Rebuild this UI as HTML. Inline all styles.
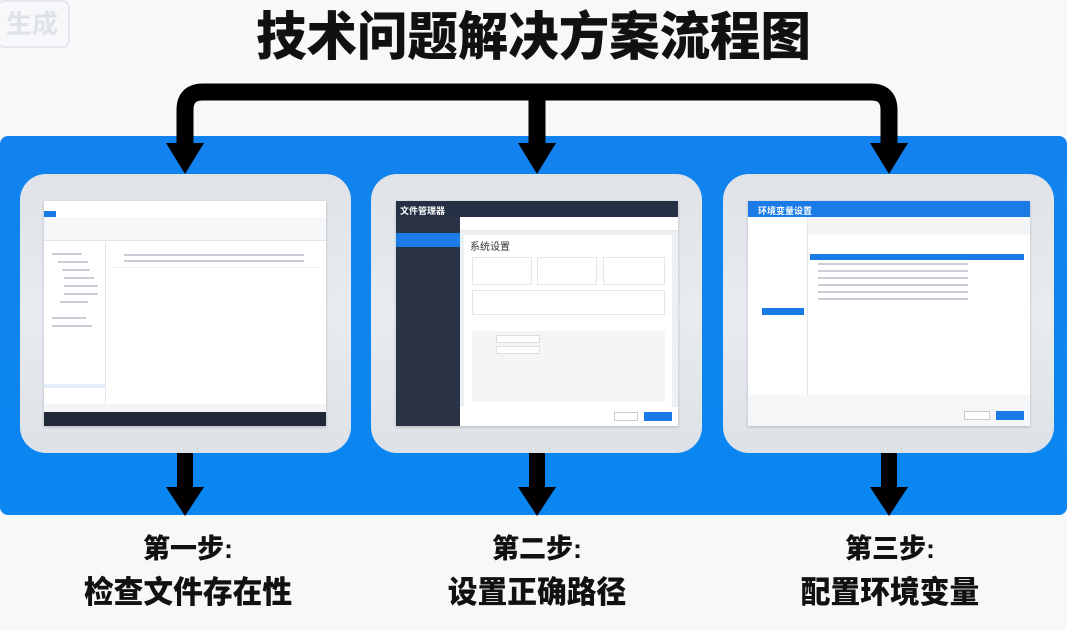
<!DOCTYPE html>
<html><head><meta charset="utf-8">
<style>
*{margin:0;padding:0;box-sizing:border-box}
body{width:1067px;height:630px;background:#f7f8fa;position:relative;overflow:hidden;font-family:"Liberation Sans","Noto Sans CJK SC",sans-serif}
.abs{position:absolute}
.title{left:0;width:1067px;top:7px;text-align:center;font-size:52px;font-weight:900;color:#111;letter-spacing:0px;line-height:62px;transform:scaleX(0.97)}
.wm{left:-4px;top:0;width:74px;height:48px;border:2px solid #e4e6ea;border-radius:8px;color:#dfe2e6;font-size:26px;font-weight:700;line-height:44px;padding-left:8px}
.band{left:0;top:136px;width:1067px;height:379px;background:linear-gradient(180deg,#1283ee,#0a86f0);border-radius:8px}
.card{top:174px;width:331px;height:279px;border-radius:26px;background:linear-gradient(180deg,#dfe3e8,#e8ecf0 50%,#dde2e7)}
.scr{top:201px;width:282px;height:225px;background:#fff;box-shadow:0 1px 3px rgba(0,0,0,.2);overflow:hidden}
.b{position:absolute;background:#c9ced6;height:3px}
.step{text-align:center;font-weight:900;color:#111;width:300px}
.s1{font-size:27px;line-height:30px;top:534px}
.s2{font-size:31px;line-height:34px;top:576px;transform:scaleX(0.96)}
</style></head><body>
<div class="abs wm">生成</div>
<div class="abs title">技术问题解决方案流程图</div>
<div class="abs band"></div>

<svg class="abs" style="left:0;top:0" width="1067" height="630">
<path d="M185 150 V110 Q185 92 203 92 H871 Q889 92 889 110 V150 M537 92 V150" fill="none" stroke="#000" stroke-width="17"/>
<polygon points="166,143 204,143 185,174" fill="#000"/>
<polygon points="518,143 556,143 537,174" fill="#000"/>
<polygon points="870,143 908,143 889,174" fill="#000"/>
<g fill="#000">
<rect x="177" y="452" width="16" height="38"/><polygon points="166,487 204,487 185,516"/>
<rect x="529" y="452" width="16" height="38"/><polygon points="518,487 556,487 537,516"/>
<rect x="881" y="452" width="16" height="38"/><polygon points="870,487 908,487 889,516"/>
</g>
</svg>

<div class="abs card" style="left:20px"></div>
<div class="abs card" style="left:371px"></div>
<div class="abs card" style="left:723px"></div>

<!-- screen 1 -->
<div class="abs scr" style="left:44px">
 <div class="abs" style="left:0;top:0;width:282px;height:10px;background:#fff"></div>
 <div class="abs" style="left:0;top:10px;width:12px;height:6px;background:#1a7ae6"></div>
 <div class="abs" style="left:0;top:16px;width:282px;height:24px;background:#f6f7f9;border-bottom:1px solid #e3e5e8"></div>
 <div class="abs" style="left:0;top:41px;width:62px;height:162px;border-right:1px solid #e3e5e8"></div>
 <div class="abs" style="left:0;top:183px;width:62px;height:4px;background:#e3eefb"></div>
 <div class="abs" style="left:66px;top:47px;width:210px;height:20px;border-bottom:1px solid #eee"></div>
 <div class="b" style="left:80px;top:53px;width:180px;height:2px"></div>
 <div class="b" style="left:80px;top:59px;width:180px;height:2px"></div>
 <div class="b" style="left:8px;top:52px;width:30px;height:2px"></div>
 <div class="b" style="left:14px;top:60px;width:30px;height:2px"></div>
 <div class="b" style="left:18px;top:68px;width:28px;height:2px"></div>
 <div class="b" style="left:20px;top:76px;width:30px;height:2px"></div>
 <div class="b" style="left:20px;top:84px;width:34px;height:2px"></div>
 <div class="b" style="left:20px;top:92px;width:34px;height:2px"></div>
 <div class="b" style="left:16px;top:100px;width:28px;height:2px"></div>
 <div class="b" style="left:8px;top:116px;width:34px;height:2px"></div>
 <div class="b" style="left:8px;top:124px;width:40px;height:2px"></div>
 <div class="abs" style="left:0;top:203px;width:282px;height:8px;background:#f3f4f6"></div>
 <div class="abs" style="left:0;top:211px;width:282px;height:14px;background:#1f2937"></div>
</div>

<!-- screen 2 -->
<div class="abs scr" style="left:396px">
 <div class="abs" style="left:0;top:0;width:282px;height:16px;background:#253044"></div>
 <div class="abs" style="left:4px;top:3px;color:#fff;font-size:9px;font-weight:700">文件管理器</div>
 <div class="abs" style="left:0;top:16px;width:64px;height:209px;background:#2a3345"></div>
 <div class="abs" style="left:0;top:32px;width:64px;height:14px;background:#1a7ae6"></div>
 <div class="abs" style="left:64px;top:16px;width:218px;height:14px;background:#fff;border-bottom:1px solid #e5e7eb"></div>
 <div class="abs" style="left:64px;top:30px;width:218px;height:195px;background:#eef1f4"></div>
 <div class="abs" style="left:68px;top:34px;width:208px;height:172px;background:#fff"></div>
 <div class="abs" style="left:74px;top:37px;font-size:10px;color:#333">系统设置</div>
 <div class="abs" style="left:76px;top:56px;width:60px;height:28px;border:1px solid #e3e6ea"></div>
 <div class="abs" style="left:141px;top:56px;width:60px;height:28px;border:1px solid #e3e6ea"></div>
 <div class="abs" style="left:207px;top:56px;width:62px;height:28px;border:1px solid #e3e6ea"></div>
 <div class="abs" style="left:76px;top:89px;width:193px;height:25px;border:1px solid #e3e6ea"></div>
 <div class="abs" style="left:76px;top:130px;width:193px;height:71px;background:#f3f5f7"></div>
 <div class="abs" style="left:100px;top:134px;width:44px;height:8px;border:1px solid #ddd;background:#fff"></div>
 <div class="abs" style="left:100px;top:145px;width:44px;height:8px;border:1px solid #ddd;background:#fff"></div>
 <div class="abs" style="left:64px;top:206px;width:218px;height:19px;background:#fff"></div>
 <div class="abs" style="left:218px;top:211px;width:24px;height:9px;border:1px solid #ccc"></div>
 <div class="abs" style="left:248px;top:211px;width:28px;height:9px;background:#1a7ae6"></div>
</div>

<!-- screen 3 -->
<div class="abs scr" style="left:748px">
 <div class="abs" style="left:0;top:0;width:282px;height:16px;background:#1a7ae6"></div>
 <div class="abs" style="left:10px;top:3px;color:#fff;font-size:9px;font-weight:700">环境变量设置</div>
 <div class="abs" style="left:0;top:16px;width:60px;height:178px;border-right:1px solid #e3e5e8"></div>
 <div class="abs" style="left:14px;top:107px;width:42px;height:7px;background:#1a7ae6"></div>
 <div class="abs" style="left:60px;top:16px;width:222px;height:18px;background:#f3f5f7"></div>
 <div class="abs" style="left:62px;top:53px;width:214px;height:6px;background:#1a7ae6"></div>
 <div class="b" style="left:70px;top:62px;width:150px;height:2px"></div>
 <div class="b" style="left:70px;top:69px;width:150px;height:2px"></div>
 <div class="b" style="left:70px;top:76px;width:150px;height:2px"></div>
 <div class="b" style="left:70px;top:83px;width:150px;height:2px"></div>
 <div class="b" style="left:70px;top:90px;width:150px;height:2px"></div>
 <div class="b" style="left:70px;top:97px;width:150px;height:2px"></div>
 <div class="abs" style="left:0;top:194px;width:282px;height:31px;background:#f4f6f8"></div>
 <div class="abs" style="left:216px;top:210px;width:26px;height:9px;border:1px solid #ccc;background:#fff"></div>
 <div class="abs" style="left:248px;top:210px;width:28px;height:9px;background:#1a7ae6"></div>
</div>

<div class="abs step s1" style="left:38px">第一步:</div>
<div class="abs step s2" style="left:38px">检查文件存在性</div>
<div class="abs step s1" style="left:387px">第二步:</div>
<div class="abs step s2" style="left:387px">设置正确路径</div>
<div class="abs step s1" style="left:740px">第三步:</div>
<div class="abs step s2" style="left:740px">配置环境变量</div>
</body></html>
